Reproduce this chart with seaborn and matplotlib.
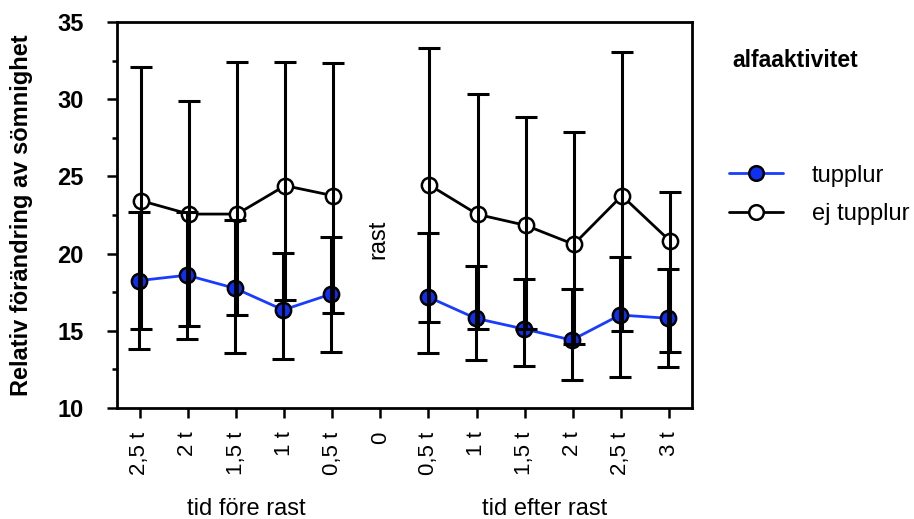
import numpy as np
import pandas as pd
import matplotlib
matplotlib.use('Agg')
import matplotlib.pyplot as plt
import seaborn as sns
from matplotlib.lines import Line2D
from matplotlib.ticker import MultipleLocator

# data
tick_labels = ['2,5 t', '2 t', '1,5 t', '1 t', '0,5 t', '0',
               '0,5 t', '1 t', '1,5 t', '2 t', '2,5 t', '3 t']
positions = [0, 1, 2, 3, 4, 6, 7, 8, 9, 10, 11]
segment = ['före'] * 5 + ['efter'] * 6

tupplur_mean = [18.25, 18.6, 17.75, 16.35, 17.38, 17.21, 15.81, 15.12, 14.4, 16.02, 15.81]
tupplur_low = [13.8, 14.5, 13.54, 13.17, 13.6, 13.58, 13.11, 12.72, 11.81, 12.03, 12.63]
tupplur_high = [22.7, 22.67, 22.18, 20.02, 21.1, 21.31, 19.2, 18.33, 17.69, 19.78, 19.02]

ej_mean = [23.43, 22.56, 22.56, 24.4, 23.75, 24.44, 22.54, 21.83, 20.6, 23.75, 20.82]
ej_low = [15.1, 15.31, 16.0, 17.0, 16.13, 15.55, 15.1, 15.1, 14.12, 15.01, 13.6]
ej_high = [32.06, 29.9, 32.39, 32.39, 32.37, 33.29, 30.34, 28.83, 27.9, 33.08, 24.01]

groups = ['tupplur', 'ej tupplur']

rows = []
for g, m, lo, hi in [('tupplur', tupplur_mean, tupplur_low, tupplur_high),
                     ('ej tupplur', ej_mean, ej_low, ej_high)]:
    for p, s, a, b, c in zip(positions, segment, m, lo, hi):
        rows.append({'pos': p, 'segment': s, 'group': g, 'mean': a, 'low': b, 'high': c})
df = pd.DataFrame(rows)

sns.set_style('white')
plt.rcParams['font.family'] = ['Liberation Sans', 'DejaVu Sans']
plt.rcParams['text.color'] = 'black'
plt.rcParams['xtick.color'] = 'black'
plt.rcParams['ytick.color'] = 'black'
plt.rcParams['axes.labelcolor'] = 'black'

blue = '#1a3cff'
style = {
    'tupplur': dict(color=blue, mfc='#1030f0', dodge=-0.02),
    'ej tupplur': dict(color='black', mfc='white', dodge=0.02),
}

fig = plt.figure(figsize=(9.14, 5.19), dpi=100)
ax = fig.add_axes([0.1277, 0.2139, 0.629, 0.7437])

for g in groups:
    st = style[g]
    for seg in ['före', 'efter']:
        sub = df[(df['group'] == g) & (df['segment'] == seg)].copy()
        sub['x'] = sub['pos'] + st['dodge']
        sns.lineplot(data=sub, x='x', y='mean', estimator=None, errorbar=None,
                     color=st['color'], linewidth=2.0, marker='o', markersize=11,
                     markerfacecolor=st['mfc'], markeredgecolor='black',
                     markeredgewidth=1.8, ax=ax, zorder=3, legend=False)
        ax.errorbar(sub['x'], sub['mean'],
                    yerr=[sub['mean'] - sub['low'], sub['high'] - sub['mean']],
                    fmt='none', ecolor='black', elinewidth=2.2, capsize=8,
                    capthick=2.2, zorder=4)

ax.set_xlim(-0.48, 11.47)
ax.set_ylim(10, 35)
ax.set_xticks(range(len(tick_labels)))
ax.set_xticklabels(tick_labels, rotation=90, fontsize=16)
ax.set_yticks([10, 15, 20, 25, 30, 35])
ax.set_yticklabels(['10', '15', '20', '25', '30', '35'], fontsize=17, fontweight='bold')
ax.yaxis.set_minor_locator(MultipleLocator(2.5))
ax.tick_params(axis='both', which='major', direction='out', length=7, width=1.8,
               color='black', bottom=True, left=True)
ax.tick_params(axis='y', which='minor', direction='out', length=3.6, width=1.8,
               color='black', left=True)
ax.tick_params(axis='y', which='major', pad=17)
ax.tick_params(axis='x', which='major', pad=10)
ax.set_xlabel('')
ax.set_ylabel('')
for sp in ax.spines.values():
    sp.set_visible(True)
    sp.set_color('black')
    sp.set_linewidth(2.0)

ax.text(4.95, 20.95, 'rast', rotation=90, ha='center', va='center', fontsize=17)

fig.text(0.023, 0.586, 'Relativ förändring av sömnighet', rotation=90,
         ha='center', va='center', fontsize=17, fontweight='bold')
fig.text(0.27, 0.008, 'tid före rast', ha='center', va='baseline', fontsize=17)
fig.text(0.5963, 0.008, 'tid efter rast', ha='center', va='baseline', fontsize=17)

# legend
fig.text(0.801, 0.8825, 'alfaaktivitet', ha='left', va='center',
         fontsize=16.5, fontweight='bold')
handles = [
    Line2D([], [], color=blue, lw=2, marker='o', ms=10.5, mfc='#1030f0',
           mec='black', mew=1.8),
    Line2D([], [], color='black', lw=2, marker='o', ms=10.5, mfc='white',
           mec='black', mew=1.8),
]
fig.legend(handles, groups, loc='center left', bbox_to_anchor=(0.7976, 0.6243),
           frameon=False, fontsize=17, handlelength=2.3, handletextpad=1.2,
           labelspacing=0.7, borderpad=0, borderaxespad=0)

fig.savefig('out.png', dpi=100)
